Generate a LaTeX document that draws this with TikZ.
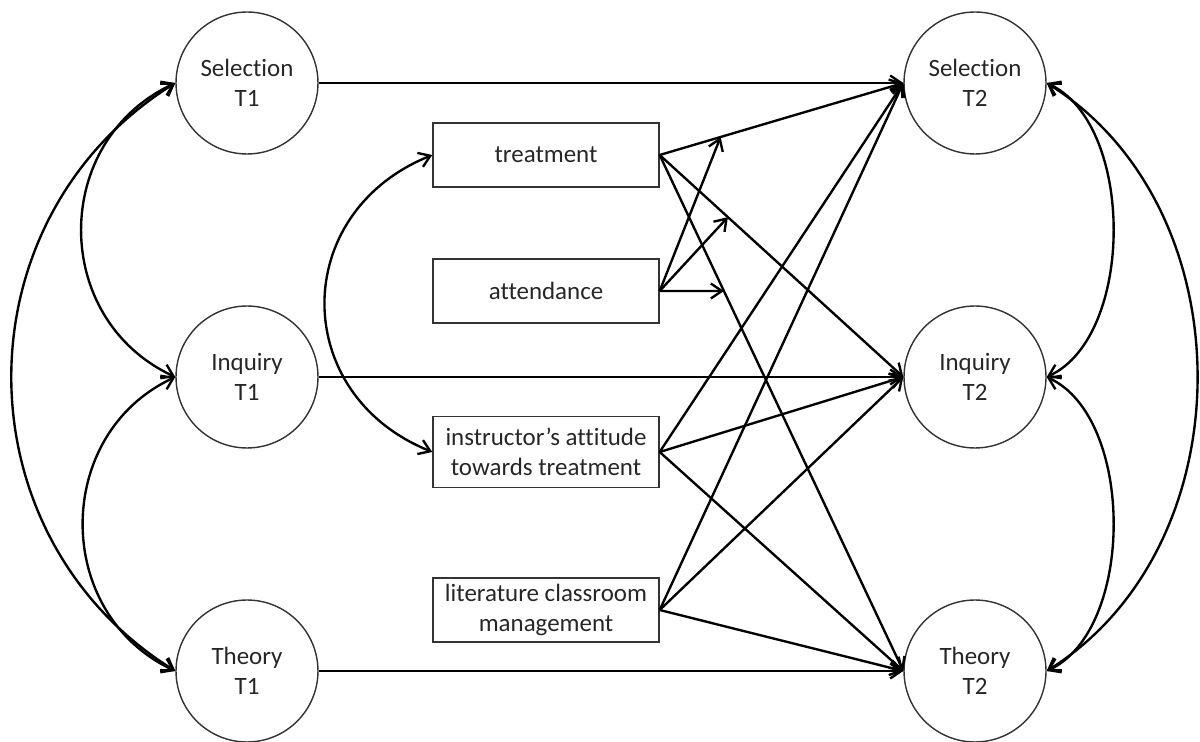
\documentclass[tikz,border=0pt]{standalone}
\usepackage{fontspec}
\setmainfont{Carlito}[Ligatures=NoCommon]
\usetikzlibrary{positioning, calc, arrows.meta}
\definecolor{Ink}{HTML}{000000}
\definecolor{Frame}{HTML}{333333}
\tikzset{
    latent/.style={circle, draw=Frame, line width=0.8pt, minimum size=2.84cm, inner sep=0pt, align=center, text=Ink!85, font=\fontsize{14.2}{17.2}\selectfont},
    observed/.style={rectangle, draw=Frame, line width=0.8pt, minimum width=4.52cm, minimum height=1.28cm, inner sep=2pt, align=center, text=Ink!85, font=\fontsize{14.2}{17.2}\selectfont},
    path/.style={-{Straight Barb[length=2.2mm, width=3mm]}, line width=1.35pt, Ink},
    cov/.style={{Straight Barb[length=2.2mm, width=3mm]}-{Straight Barb[length=2.2mm, width=3mm]}, line width=1.35pt, Ink},
}

\begin{document}
\begin{tikzpicture}[x=0.02cm, y=0.02cm]
    \useasboundingbox (0,0) rectangle (1200,-742);

    % Fattori latenti al tempo 1 e al tempo 2
    \node[latent] (selT1) at (247,-83) {Selection\\T1};
    \node[latent] (inqT1) at (247,-377) {Inquiry\\T1};
    \node[latent] (theT1) at (247,-671) {Theory\\T1};

    \node[latent] (selT2) at (975,-83) {Selection\\T2};
    \node[latent] (inqT2) at (975,-377) {Inquiry\\T2};
    \node[latent] (theT2) at (975,-671) {Theory\\T2};

    % Variabili osservate al centro
    \node[observed] (treat) at (546,-155) {treatment};
    \node[observed] (att) at (546,-291) {attendance};
    \node[observed, minimum height=1.42cm] (instr) at (546,-452) {instructor’s attitude\\towards treatment};
    \node[observed] (lit) at (546,-610) {literature classroom\\management};

    % Stabilita' T1 -> T2
    \draw[path] (selT1) -- (selT2.west);
    \draw[path] (inqT1) -- (inqT2.west);
    \draw[path] (theT1) -- (theT2.west);

    % Effetti dei predittori
    \foreach \src in {treat, instr, lit}{
        \draw[path] (\src.east) -- (selT2.west);
        \draw[path] (\src.east) -- (inqT2.west);
        \draw[path] (\src.east) -- (theT2.west);
    }

    % Moderazione: attendance punta sui percorsi di treatment
    \coordinate (modSel) at ($(treat.east)!0.25!(selT2.west)$);
    \coordinate (modInq) at ($(treat.east)!0.28!(inqT2.west)$);
    \coordinate (attFar) at ($(att.east)+(100,0)$);
    \coordinate (modThe) at (intersection of treat.east--theT2.west and att.east--attFar);
    \draw[path] (att.east) -- (modSel);
    \draw[path] (att.east) -- (modInq);
    \draw[path] (att.east) -- (modThe);

    % Covarianze a sinistra
    \draw[cov] (selT1.west) to[out=205, in=155, looseness=1.2] (inqT1.west);
    \draw[cov] (inqT1.west) to[out=205, in=155, looseness=1.18] (theT1.west);
    \draw[cov] (selT1.west) to[out=212, in=148, looseness=1.12] (theT1.west);
    \draw[cov] (treat.west) to[out=202, in=158, looseness=1.33] (instr.west);

    % Covarianze a destra
    \draw[cov] (selT2.east) to[out=-25, in=25, looseness=0.85] (inqT2.east);
    \draw[cov] (inqT2.east) to[out=-25, in=25, looseness=0.85] (theT2.east);
    \draw[cov] (selT2.east) to[out=-32, in=32, looseness=1.03] (theT2.east);

\end{tikzpicture}
\end{document}
